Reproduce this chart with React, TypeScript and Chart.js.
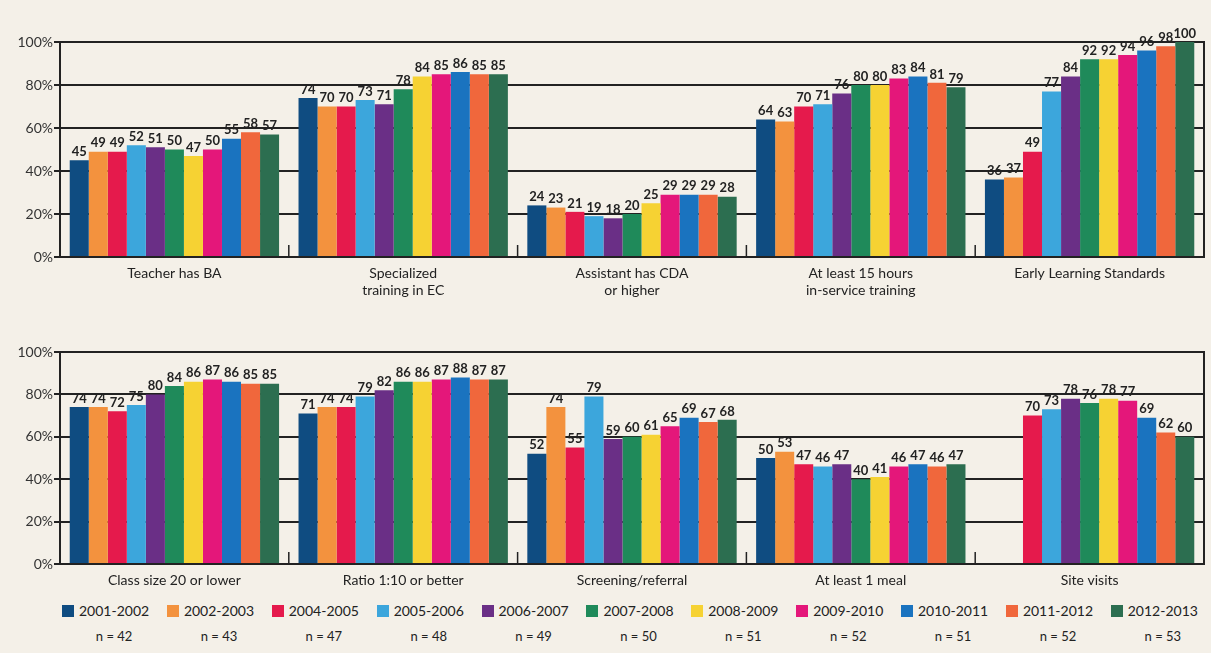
import React, { useEffect, useRef } from "react";
import { Chart, registerables } from "chart.js";

Chart.register(...registerables);

// ---- Data ----
const seriesNames = [
  "2001-2002", "2002-2003", "2004-2005", "2005-2006", "2006-2007", "2007-2008",
  "2008-2009", "2009-2010", "2010-2011", "2011-2012", "2012-2013",
];
const sampleSizes = [42, 43, 47, 48, 49, 50, 51, 52, 51, 52, 53];
const seriesColors = [
  "#0f4c81", "#f3923e", "#e51a4c", "#3ca6dc", "#6a2f86", "#1f8a5a",
  "#f6d233", "#e4177a", "#1a73bf", "#f0673c", "#2c6e50",
];

const topCategories = [
  ["Teacher has BA"],
  ["Specialized", "training in EC"],
  ["Assistant has CDA", "or higher"],
  ["At least 15 hours", "in-service training"],
  ["Early Learning Standards"],
];
const bottomCategories = [
  ["Class size 20 or lower"],
  ["Ratio 1:10 or better"],
  ["Screening/referral"],
  ["At least 1 meal"],
  ["Site visits"],
];

const teacherHasBA = [45, 49, 49, 52, 51, 50, 47, 50, 55, 58, 57];
const specializedTraining = [74, 70, 70, 73, 71, 78, 84, 85, 86, 85, 85];
const assistantCDA = [24, 23, 21, 19, 18, 20, 25, 29, 29, 29, 28];
const inServiceTraining = [64, 63, 70, 71, 76, 80, 80, 83, 84, 81, 79];
const earlyLearningStandards = [36, 37, 49, 77, 84, 92, 92, 94, 96, 98, 100];

const classSize = [74, 74, 72, 75, 80, 84, 86, 87, 86, 85, 85];
const ratio = [71, 74, 74, 79, 82, 86, 86, 87, 88, 87, 87];
const screening = [52, 74, 55, 79, 59, 60, 61, 65, 69, 67, 68];
const meal = [50, 53, 47, 46, 47, 40, 41, 46, 47, 46, 47];
const siteVisits = [null, null, 70, 73, 78, 76, 78, 77, 69, 62, 60];

const topGroups = [teacherHasBA, specializedTraining, assistantCDA, inServiceTraining, earlyLearningStandards];
const bottomGroups = [classSize, ratio, screening, meal, siteVisits];

const yTicks = [0, 20, 40, 60, 80, 100];

// ---- Style ----
const BG = "#f4f0e8";
const INK = "#222222";
const FONT = "Lato, 'Open Sans', sans-serif";

const decorPlugin = {
  id: "decor",
  afterDatasetsDraw(chart: any) {
    const ctx = chart.ctx;
    const ca = chart.chartArea;
    ctx.save();
    ctx.font = `bold 13px ${FONT}`;
    ctx.fillStyle = INK;
    ctx.textAlign = "center";
    ctx.textBaseline = "bottom";
    chart.data.datasets.forEach((ds: any, di: number) => {
      const meta = chart.getDatasetMeta(di);
      meta.data.forEach((el: any, i: number) => {
        const v = ds.data[i];
        if (v === null || v === undefined) return;
        ctx.fillText(String(v), el.x, el.y - 2);
      });
    });
    ctx.strokeStyle = INK;
    ctx.lineWidth = 2;
    ctx.beginPath();
    ctx.moveTo(ca.right, ca.top - 1);
    ctx.lineTo(ca.right, ca.bottom);
    ctx.stroke();
    const xs = chart.scales.x;
    const n = chart.data.labels.length;
    ctx.lineWidth = 1.5;
    for (let i = 1; i < n; i++) {
      const x = (xs.getPixelForValue(i - 1) + xs.getPixelForValue(i)) / 2;
      ctx.beginPath();
      ctx.moveTo(x, ca.bottom);
      ctx.lineTo(x, ca.bottom - 12);
      ctx.stroke();
    }
    ctx.restore();
  },
};

function buildConfig(categories: string[][], groups: (number | null)[][], xHeight: number): any {
  return {
    type: "bar",
    data: {
      labels: categories,
      datasets: seriesNames.map((name, s) => ({
        label: name,
        data: groups.map((g) => g[s]),
        backgroundColor: seriesColors[s],
        borderWidth: 0,
        barPercentage: 1.0,
        categoryPercentage: 0.915,
      })),
    },
    options: {
      responsive: false,
      animation: false,
      layout: { padding: { top: 42, right: 7, left: 0, bottom: 0 } },
      plugins: { legend: { display: false }, tooltip: { enabled: false } },
      scales: {
        x: {
          grid: { display: false },
          border: { display: true, color: INK, width: 2 },
          ticks: {
            font: { family: FONT, size: 14, lineHeight: 1.2 },
            color: INK,
            padding: 0,
            maxRotation: 0,
            autoSkip: false,
          },
          afterFit: (s: any) => { s.height = xHeight; },
        },
        y: {
          min: 0,
          max: 100,
          afterBuildTicks: (s: any) => { s.ticks = yTicks.map((v) => ({ value: v })); },
          grid: { color: INK, lineWidth: 2, tickLength: 6, drawTicks: true },
          border: { display: true, color: INK, width: 2 },
          ticks: {
            font: { family: FONT, size: 14 },
            color: "#333333",
            padding: 1,
            callback: (v: any) => `${v}%`,
          },
          afterFit: (s: any) => { s.width = 60; },
        },
      },
    },
    plugins: [decorPlugin],
  };
}

function BarPanel({ categories, groups, height, xHeight }: any) {
  const ref = useRef<HTMLCanvasElement | null>(null);
  useEffect(() => {
    if (!ref.current) return;
    const chart = new Chart(ref.current, buildConfig(categories, groups, xHeight));
    return () => chart.destroy();
  }, []);
  return <canvas ref={ref} width={1211} height={height} style={{ display: "block", width: 1211, height }} />;
}

export default function App() {
  return (
    <div
      style={{
        position: "fixed",
        left: 0,
        top: 0,
        width: 1211,
        height: 653,
        background: BG,
        overflow: "hidden",
        fontFamily: FONT,
      }}
    >
      <div style={{ position: "absolute", left: 0, top: 0 }}>
        <BarPanel categories={topCategories} groups={topGroups} height={310} xHeight={53} />
      </div>
      <div style={{ position: "absolute", left: 0, top: 310 }}>
        <BarPanel categories={bottomCategories} groups={bottomGroups} height={290} xHeight={36} />
      </div>
      <div
        style={{
          position: "absolute",
          left: 62,
          top: 602,
          width: 1136,
          display: "flex",
          justifyContent: "space-between",
          color: INK,
        }}
      >
        {seriesNames.map((name, i) => (
          <div key={name} style={{ display: "flex", flexDirection: "column" }}>
            <div style={{ display: "flex", alignItems: "center", fontSize: 14, lineHeight: "18px" }}>
              <span
                style={{
                  display: "inline-block",
                  width: 12,
                  height: 12,
                  background: seriesColors[i],
                  marginRight: 5,
                }}
              />
              <span>{name}</span>
            </div>
            <div style={{ paddingLeft: 17, textAlign: "center", fontSize: 13, marginTop: 8 }}>
              {`n = ${sampleSizes[i]}`}
            </div>
          </div>
        ))}
      </div>
    </div>
  );
}
